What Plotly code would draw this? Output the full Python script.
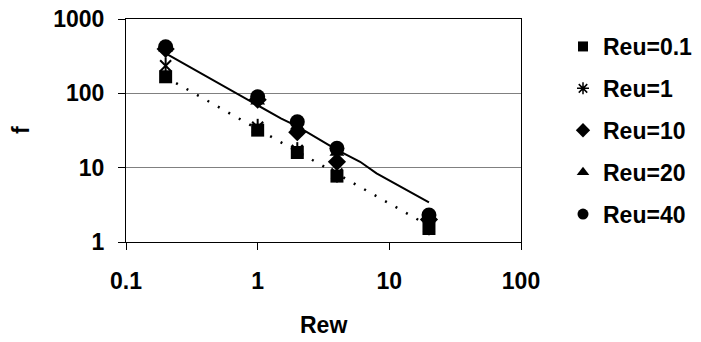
import plotly.graph_objects as go

# Data
rew = [0.2, 1, 2, 4, 20]
f_reu01 = [167, 32, 16, 7.7, 1.52]
f_reu1 = [235, 35, 17, 8.2, 1.6]
f_reu10 = [395, 82, 30, 12, 2.0]
f_reu20 = [405, 78, 36, 16, 2.2]
f_reu40 = [424, 90, 41.5, 18.2, 2.3]

solid_x = [0.2, 1, 1.5, 2, 3, 4, 6, 8, 20]
solid_y = [345, 70, 46, 36, 23.5, 17.3, 12, 8.4, 3.4]
dotted_x = [0.2, 20]
dotted_y = [165, 1.65]

series_names = ["Reu=0.1", "Reu=1", "Reu=10", "Reu=20", "Reu=40"]
x_ticks = [0.1, 1, 10, 100]
x_ticktext = ["0.1", "1", "10", "100"]
y_ticks = [1, 10, 100, 1000]
y_ticktext = ["1", "10", "100", "1000"]

W, H = 701, 342
PL, PR, PT, PB = 126, 521, 19, 242  # plot-area box in pixels

FONT = "Liberation Sans, Arial, sans-serif"
BOLD = dict(family=FONT, size=23, color="black", weight="bold")

fig = go.Figure()

# Lines
fig.add_trace(go.Scatter(x=solid_x, y=solid_y, mode="lines",
                         line=dict(color="black", width=2), showlegend=False))
fig.add_trace(go.Scatter(x=dotted_x, y=dotted_y, mode="lines",
                         line=dict(color="black", width=2.5, dash="2px,10px"),
                         showlegend=False))

# Data markers
fig.add_trace(go.Scatter(x=rew, y=f_reu01, mode="markers", showlegend=False,
                         marker=dict(symbol="square", size=13, color="black")))
fig.add_trace(go.Scatter(x=rew, y=f_reu1, mode="markers", showlegend=False,
                         marker=dict(symbol="x-thin-open", size=11, color="black",
                                     line=dict(width=2, color="black"))))
fig.add_trace(go.Scatter(x=rew, y=f_reu1, mode="markers", showlegend=False,
                         marker=dict(symbol="line-ns-open", size=12, color="black",
                                     line=dict(width=2, color="black"))))
fig.add_trace(go.Scatter(x=rew, y=f_reu10, mode="markers", showlegend=False,
                         marker=dict(symbol="diamond", size=14, color="black")))
fig.add_trace(go.Scatter(x=rew, y=f_reu20, mode="markers", showlegend=False,
                         marker=dict(symbol="triangle-up", size=13, color="black")))
fig.add_trace(go.Scatter(x=rew, y=f_reu40, mode="markers", showlegend=False,
                         marker=dict(symbol="circle", size=15, color="black")))

# Legend entries
legend_markers = [
    dict(symbol="square", size=10, color="black"),
    dict(symbol="asterisk-open", size=10, color="black", line=dict(width=1.5, color="black")),
    dict(symbol="diamond", size=11, color="black"),
    dict(symbol="triangle-up", size=11, color="black"),
    dict(symbol="circle", size=11, color="black"),
]
for i, (name, mk) in enumerate(zip(series_names, legend_markers)):
    fig.add_trace(go.Scatter(x=[None], y=[None], mode="markers", name=name,
                             legendgroup=f"g{i}", marker=mk))

fig.update_layout(
    width=W, height=H,
    margin=dict(l=0, r=0, t=0, b=0, autoexpand=False),
    paper_bgcolor="white", plot_bgcolor="white",
    font=BOLD,
    showlegend=True,
    legend=dict(x=563 / W, xanchor="left", y=1 - 25 / H, yanchor="top",
                font=BOLD, tracegroupgap=9, bgcolor="rgba(0,0,0,0)",
                itemwidth=30),
    xaxis=dict(type="log", range=[-1, 2], tickvals=x_ticks, ticktext=x_ticktext,
               domain=[PL / W, PR / W],
               ticks="outside", ticklen=7, tickcolor="black", tickwidth=1,
               showline=True, linecolor="black", linewidth=1, mirror=True,
               showgrid=False, zeroline=False, tickfont=BOLD,
               ticklabelstandoff=11, automargin=False),
    yaxis=dict(type="log", range=[0, 3], tickvals=y_ticks, ticktext=y_ticktext,
               domain=[1 - PB / H, 1 - PT / H],
               ticks="outside", ticklen=7, tickcolor="black", tickwidth=1,
               showline=True, linecolor="black", linewidth=1, mirror=True,
               showgrid=True, gridcolor="#808080", gridwidth=1,
               zeroline=False, tickfont=BOLD, ticklabelstandoff=9,
               automargin=False),
    annotations=[
        dict(text="Rew", xref="paper", yref="paper", x=323 / W, y=1 - 325 / H,
             xanchor="center", yanchor="middle", showarrow=False, font=BOLD),
        dict(text="f", xref="paper", yref="paper", x=21 / W, y=1 - 130 / H,
             xanchor="center", yanchor="middle", showarrow=False,
             textangle=-90, font=BOLD),
    ],
)

fig.write_html("out.html", config={"displayModeBar": False},
               post_script="document.body.style.margin='0px';")
